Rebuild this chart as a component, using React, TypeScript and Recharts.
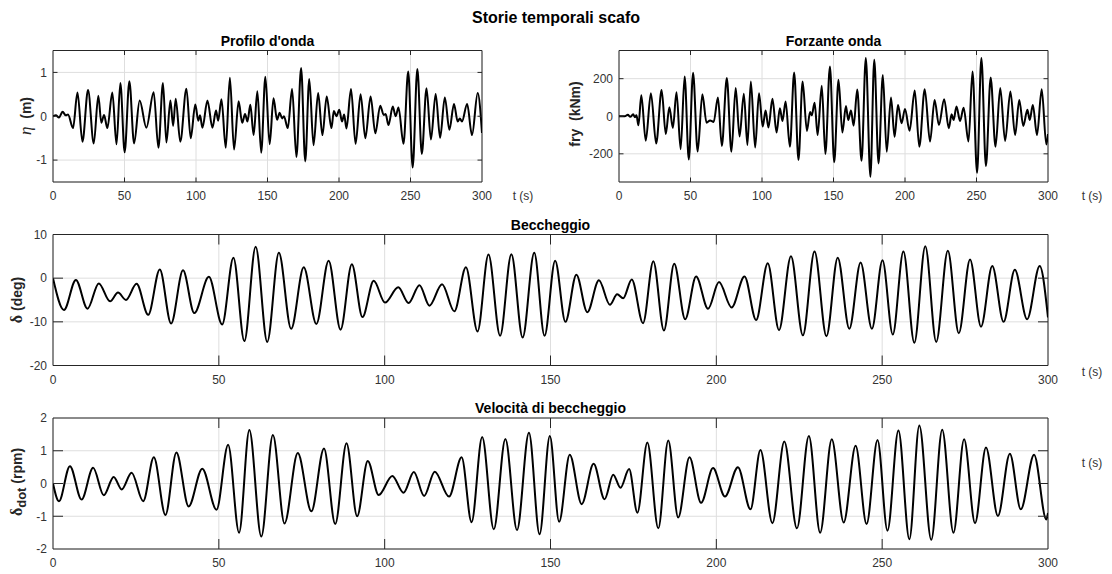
import React from 'react';
import { LineChart, Line, XAxis, YAxis, CartesianGrid, ReferenceArea } from 'recharts';

const FONT = '"Liberation Sans", Arial, Helvetica, sans-serif';
const SERIF = '"Liberation Serif", "DejaVu Serif", serif';

// ---- tick labels ----
const timeTicks = [0, 50, 100, 150, 200, 250, 300];
const profiloTicks = [-1, 0, 1];
const forzanteTicks = [-200, 0, 200];
const beccheggioTicks = [-20, -10, 0, 10];
const velocitaTicks = [-2, -1, 0, 1, 2];

// ---- Profilo d'onda: eta (m) ----
const profiloT = [
  0, 2, 4.2, 6.7, 9, 10.5, 14, 17.1, 20.6, 24.5,
  28.5, 31.7, 33.8, 35.7, 38, 41.5, 44.4, 47.1, 50.1, 53.4,
  56.7, 60.6, 65.3, 70.4, 73.7, 76.9, 79.3, 82.1, 84, 85.8,
  89, 93.3, 96.3, 99.5, 101.6, 102.8, 104.5, 108, 111.5, 114,
  115.5, 117.8, 120.8, 123.7, 126.6, 129.8, 132.3, 134.3, 136, 138,
  140.3, 142.9, 145.6, 148.5, 151.5, 154.2, 156.7, 158.5, 160.2, 161.5,
  164.2, 167.2, 170.2, 173.5, 176.4, 179.2, 182.2, 185.4, 188.4, 191.4,
  194.7, 196.4, 198.2, 200.2, 202.1, 203.6, 205.2, 208.4, 211.6, 215.1,
  218.4, 222.1, 225.4, 228.8, 231.3, 232.6, 234.6, 237.6, 239.6, 241.6,
  245.1, 248.4, 251.5, 254.8, 257.9, 261.2, 264.3, 267.6, 270.7, 274,
  277.2, 280.4, 283, 284.5, 286, 289.6, 293, 297, 300,
];
const profiloV = [
  0, 0.02, -0.03, 0.1, 0.02, 0.04, -0.27, 0.54, -0.58, 0.6,
  -0.62, 0.47, -0.15, 0.03, -0.27, 0.54, -0.64, 0.76, -0.82, 0.8,
  -0.62, 0.36, -0.26, 0.55, -0.72, 0.76, -0.6, 0.36, -0.22, 0.4,
  -0.58, 0.63, -0.5, 0.27, -0.1, 0.02, -0.26, 0.36, -0.26, 0.13,
  -0.1, 0.39, -0.72, 0.88, -0.76, 0.34, -0.15, 0.05, -0.12, 0.26,
  -0.43, 0.57, -0.83, 0.9, -0.64, 0.41, -0.08, 0.08, -0.05, 0,
  -0.27, 0.62, -0.93, 1.1, -1.03, 0.85, -0.66, 0.53, -0.43, 0.45,
  -0.27, 0.12, 0, 0.15, -0.12, 0.04, -0.28, 0.62, -0.63, 0.5,
  -0.5, 0.45, -0.39, 0.24, 0.03, 0.05, -0.2, 0.22, 0, 0.2,
  -0.63, 1.02, -1.17, 1.08, -0.86, 0.64, -0.53, 0.51, -0.49, 0.43,
  -0.31, 0.28, -0.12, -0.05, -0.12, 0.28, -0.43, 0.53, -0.38,
];

// ---- Forzante onda: fry (kNm) ----
const forzanteT = [
  0, 4, 6.2, 7.9, 9.9, 11.2, 12.2, 13.6, 15.6, 18.7,
  22.3, 26, 29.8, 32.7, 35.2, 37.7, 40.2, 43.1, 45.9, 48.8,
  51.8, 55, 58.3, 61.2, 63.7, 66.2, 69.2, 71.9, 75.4, 78.6,
  81.6, 84.3, 87.3, 89.8, 92.2, 95.2, 97.9, 100.5, 102.5, 104.5,
  107.3, 110.2, 112.5, 114.3, 116.5, 119.5, 122.5, 125.5, 128.4, 131.4,
  133.6, 134.8, 136.8, 138.9, 141.8, 144.3, 147.5, 150.5, 153.5, 156.2,
  158.7, 160.3, 162.2, 164.1, 166.6, 169.6, 172.6, 175.8, 178.5, 181.5,
  184.5, 187.2, 190.2, 192.7, 195.1, 197.6, 200, 203.2, 206.8, 210,
  213.8, 217.5, 220.7, 223.7, 227.4, 230.6, 232.6, 234, 236, 238.5,
  241, 244.4, 247.2, 250.4, 253.4, 256.6, 259.9, 263.3, 266.6, 270,
  273.7, 277, 279.9, 282.7, 285.6, 287.2, 289.4, 292.3, 295.6, 298.8,
  300,
];
const forzanteV = [
  0, 0, 8, -3, 10, -5, 5, -48, 112, -130,
  123, -145, 140, -95, 48, -62, 128, -175, 212, -230,
  232, -188, 117, -34, -22, -30, 100, -158, 203, -189,
  150, -108, 120, -153, 185, -167, 123, -55, 30, -60,
  93, -87, 43, -25, 78, -162, 233, -233, 185, -78,
  22, 5, 72, -100, 162, -201, 265, -245, 194, -87,
  55, -20, 30, -50, 143, -237, 310, -322, 301, -251,
  220, -189, 100, -109, 60, -37, 39, -77, 137, -162,
  144, -135, 87, -46, 91, -64, 10, -20, 52, -25,
  45, -135, 238, -301, 310, -265, 206, -162, 150, -132,
  132, -100, 87, -52, 34, -20, 60, -100, 144, -150,
  -95,
];

// ---- Beccheggio: delta (deg) ----
const beccheggioT = [
  0, 3.3, 6.9, 10.4, 13.8, 17.2, 19.6, 22, 25.2, 28.7,
  32.2, 35.6, 39.2, 42.6, 47, 51, 54.4, 57.7, 61.1, 64.6,
  68.1, 71.8, 75.6, 79.4, 83.1, 86.7, 90.1, 93.3, 96.7, 100.1,
  104.1, 107.2, 110.5, 113.5, 117.3, 121, 124.5, 128, 131.3, 134.8,
  138.2, 141.6, 145.1, 148.2, 151.4, 154.5, 157.8, 161.1, 164.6, 167.9,
  170.1, 171.9, 174.5, 177.9, 181, 184.2, 187.3, 190.6, 193.9, 197.5,
  200.8, 204.6, 208.5, 212, 215.5, 218.9, 222.5, 226.1, 229.6, 233.2,
  236.6, 240.1, 243.5, 246.9, 250.1, 253.2, 256.4, 259.7, 263, 266.3,
  269.8, 273.1, 276.5, 279.8, 283.2, 286.6, 290, 293.7, 297.5, 300,
];
const beccheggioV = [
  0, -7.3, -0.4, -7, -1.2, -5.3, -3.3, -5, -1.3, -8.4,
  2, -10.4, 1.8, -8, 0.3, -10.6, 4.7, -14.4, 7.2, -14.6,
  5.8, -11.6, 2.5, -10.5, 4, -11.8, 3.2, -8.9, -0.6, -5.6,
  -2.1, -5.7, -1.6, -6.3, -1.4, -7.6, 2.5, -12.2, 5.4, -13.2,
  5.5, -13.6, 5.8, -13.2, 4, -10, 0.8, -7.8, -0.5, -6.1,
  -3.7, -4.6, -0.3, -10.3, 3.9, -12, 3.3, -9.4, 0.4, -7,
  -0.9, -6.7, 0.4, -9.6, 3.4, -11.9, 5, -13.1, 6.1, -13.3,
  4.7, -11.6, 3.6, -11.6, 4.1, -12.9, 6.1, -14.8, 7.3, -14.6,
  6.3, -12.6, 4.3, -11.1, 2.8, -10, 1.9, -9.4, 2.8, -9,
];

// ---- Velocità di beccheggio: delta_dot (rpm) ----
const velocitaT = [
  0, 1.8, 5.1, 8.6, 12.1, 15.3, 18.3, 20.7, 23.7, 27.2,
  30.4, 33.9, 37.2, 40.9, 45, 49.3, 52.8, 56.1, 59.2, 62.8,
  66.3, 69.8, 73.8, 77.9, 81.7, 85.1, 88.5, 91.7, 94.9, 98.2,
  102.3, 105.7, 108.8, 111.9, 115.1, 119.4, 123.2, 126.2, 129.4, 132.9,
  136.4, 139.9, 143.5, 146.7, 149.8, 152.6, 155.8, 159.4, 163, 166.3,
  168.9, 171.1, 173.7, 176.2, 179.2, 182.5, 185.5, 188.5, 191.9, 195.4,
  199, 202.6, 206.5, 210.3, 213.3, 216.9, 220.5, 224.3, 227.9, 231.3,
  234.8, 238.4, 242, 245.3, 248.6, 251.6, 254.9, 258.2, 261.2, 264.8,
  268.1, 271.5, 274.7, 278, 281.3, 284.9, 288.5, 291.8, 295.8, 299.5,
  300,
];
const velocitaV = [
  0, -0.54, 0.53, -0.49, 0.48, -0.36, 0.2, -0.18, 0.33, -0.54,
  0.8, -0.96, 0.95, -0.7, 0.45, -0.8, 1.18, -1.5, 1.63, -1.62,
  1.48, -1.22, 0.93, -0.85, 1.07, -1.24, 1.23, -1, 0.69, -0.35,
  0.23, -0.28, 0.35, -0.38, 0.36, -0.4, 0.8, -1.18, 1.42, -1.4,
  1.36, -1.42, 1.55, -1.55, 1.45, -1.17, 0.88, -0.63, 0.6, -0.48,
  0.27, -0.13, 0.44, -0.89, 1.25, -1.37, 1.31, -1.04, 0.8, -0.59,
  0.47, -0.4, 0.5, -0.79, 1.02, -1.21, 1.28, -1.37, 1.45, -1.5,
  1.35, -1.19, 1.15, -1.24, 1.33, -1.44, 1.62, -1.7, 1.77, -1.72,
  1.64, -1.5, 1.35, -1.21, 1.1, -0.99, 0.91, -0.79, 0.88, -1.1,
  -0.9,
];

const toRows = (ts: number[], vs: number[]) => ts.map((t, i) => ({ t, v: vs[i] }));

const TICK_COLOR = '#333333';
const FRAME_COLOR = '#262626';

type PanelProps = {
  left: number;
  top: number;
  width: number;
  height: number;
  plotLeft: number;
  plotTop: number;
  plotRight: number;
  plotBottom: number;
  data: { t: number; v: number }[];
  domain: [number, number];
  yTicks: number[];
  tickLen: number;
};

function Panel({ left, top, width, height, plotLeft, plotTop, plotRight, plotBottom, data, domain, yTicks, tickLen }: PanelProps) {
  const plotH = plotBottom - plotTop;
  const plotW = plotRight - plotLeft;
  const axisH = 22;

  const xTick = (p: any) => {
    const { x, y, payload } = p;
    const v = payload.value;
    const edge = v === 0 || v === 300;
    return (
      <g>
        {!edge && <line x1={x} y1={y} x2={x} y2={y - tickLen} stroke={FRAME_COLOR} strokeWidth={1} />}
        {!edge && <line x1={x} y1={y - plotH} x2={x} y2={y - plotH + tickLen} stroke={FRAME_COLOR} strokeWidth={1} />}
        <text x={x} y={y + 18} textAnchor="middle" fontSize={12} fill={TICK_COLOR} fontFamily={FONT}>
          {String(v)}
        </text>
      </g>
    );
  };

  const yTick = (p: any) => {
    const { x, y, payload } = p;
    const v = payload.value;
    const edge = v === domain[0] || v === domain[1];
    return (
      <g>
        {!edge && <line x1={x} y1={y} x2={x + tickLen} y2={y} stroke={FRAME_COLOR} strokeWidth={1} />}
        {!edge && <line x1={x + plotW - tickLen} y1={y} x2={x + plotW} y2={y} stroke={FRAME_COLOR} strokeWidth={1} />}
        <text x={x - 6} y={y + 4.3} textAnchor="end" fontSize={12} fill={TICK_COLOR} fontFamily={FONT}>
          {String(v)}
        </text>
      </g>
    );
  };

  return (
    <div style={{ position: 'absolute', left, top, width, height }}>
      <LineChart
        width={width}
        height={height}
        data={data}
        margin={{ top: plotTop, right: width - plotRight, bottom: height - plotBottom - axisH, left: 0 }}
      >
        <CartesianGrid stroke="#dedede" strokeWidth={1} />
        <XAxis
          dataKey="t"
          type="number"
          domain={[0, 300]}
          ticks={timeTicks}
          interval={0}
          height={axisH}
          tickSize={0}
          tickMargin={0}
          axisLine={false}
          tickLine={false}
          tick={xTick}
          allowDataOverflow
        />
        <YAxis
          type="number"
          domain={domain}
          ticks={yTicks}
          interval={0}
          width={plotLeft}
          tickSize={0}
          tickMargin={0}
          axisLine={false}
          tickLine={false}
          tick={yTick}
          allowDataOverflow
        />
        <Line
          dataKey="v"
          type="monotone"
          stroke="#000000"
          strokeWidth={2}
          dot={false}
          activeDot={false}
          isAnimationActive={false}
        />
        <ReferenceArea
          x1={0}
          x2={300}
          y1={domain[0]}
          y2={domain[1]}
          fill="none"
          fillOpacity={0}
          stroke={FRAME_COLOR}
          strokeWidth={1}
          ifOverflow="visible"
        />
      </LineChart>
    </div>
  );
}

type TxtProps = {
  x: number;
  y: number;
  size?: number;
  weight?: number;
  color?: string;
  rotate?: boolean;
  children: React.ReactNode;
};

function Txt({ x, y, size = 12, weight = 400, color = TICK_COLOR, rotate = false, children }: TxtProps) {
  return (
    <div
      style={{
        position: 'absolute',
        left: x,
        top: y,
        transform: `translate(-50%, -50%)${rotate ? ' rotate(-90deg)' : ''}`,
        fontSize: size,
        fontWeight: weight,
        color,
        whiteSpace: 'nowrap',
        lineHeight: 1,
        fontFamily: FONT,
      }}
    >
      {children}
    </div>
  );
}

export default function App() {
  return (
    <div
      style={{
        position: 'absolute',
        left: 0,
        top: 0,
        width: 1112,
        height: 574,
        background: '#ffffff',
        overflow: 'hidden',
        fontFamily: FONT,
      }}
    >
      <Panel
        left={0} top={0} width={540} height={210}
        plotLeft={53} plotTop={50.5} plotRight={482} plotBottom={182}
        data={toRows(profiloT, profiloV)} domain={[-1.5, 1.5]} yTicks={profiloTicks} tickLen={4.5}
      />
      <Panel
        left={560} top={0} width={540} height={210}
        plotLeft={59} plotTop={50.5} plotRight={488} plotBottom={182}
        data={toRows(forzanteT, forzanteV)} domain={[-350, 350]} yTicks={forzanteTicks} tickLen={4.5}
      />
      <Panel
        left={0} top={200} width={1112} height={190}
        plotLeft={53} plotTop={34.5} plotRight={1048} plotBottom={165.5}
        data={toRows(beccheggioT, beccheggioV)} domain={[-20, 10]} yTicks={beccheggioTicks} tickLen={10}
      />
      <Panel
        left={0} top={384} width={1112} height={190}
        plotLeft={53} plotTop={34} plotRight={1048} plotBottom={165}
        data={toRows(velocitaT, velocitaV)} domain={[-2, 2]} yTicks={velocitaTicks} tickLen={10}
      />

      <Txt x={556} y={18} size={16} weight={700} color="#000">Storie temporali scafo</Txt>
      <Txt x={267.5} y={41} size={14} weight={700} color="#000">Profilo d'onda</Txt>
      <Txt x={833.5} y={41} size={14} weight={700} color="#000">Forzante onda</Txt>
      <Txt x={550.5} y={225} size={14} weight={700} color="#000">Beccheggio</Txt>
      <Txt x={550.5} y={408} size={14} weight={700} color="#000">Velocità di beccheggio</Txt>

      <Txt x={25} y={116} size={14} weight={700} color="#262626" rotate>
        <span style={{ fontFamily: SERIF, fontStyle: 'italic', fontWeight: 400, fontSize: 17 }}>η</span>
        {'\u00a0\u00a0(m)'}
      </Txt>
      <Txt x={575} y={114} size={14} weight={700} color="#262626" rotate>
        {'fry\u00a0\u00a0(kNm)'}
      </Txt>
      <Txt x={17} y={300} size={14} weight={700} color="#262626" rotate>
        <span style={{ fontFamily: SERIF, fontSize: 16 }}>δ</span>
        {'\u00a0(deg)'}
      </Txt>
      <Txt x={17} y={482} size={14} weight={700} color="#262626" rotate>
        <span style={{ fontFamily: SERIF, fontSize: 16 }}>δ</span>
        <span style={{ fontSize: 13, position: 'relative', top: 4 }}>dot</span>
        {'\u00a0(rpm)'}
      </Txt>

      <Txt x={523} y={196}>t (s)</Txt>
      <Txt x={1092} y={196}>t (s)</Txt>
      <Txt x={1092} y={372}>t (s)</Txt>
      <Txt x={1092} y={463}>t (s)</Txt>
    </div>
  );
}
